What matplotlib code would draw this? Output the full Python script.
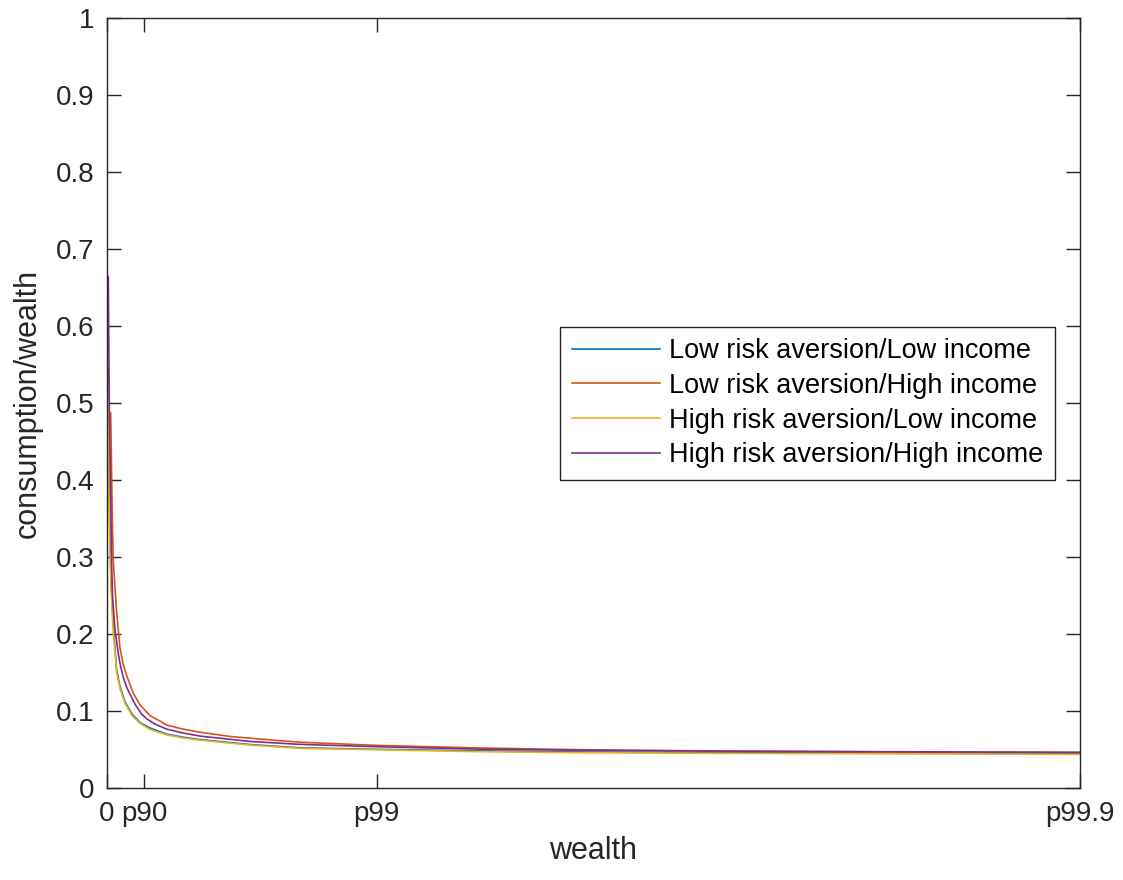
import matplotlib
matplotlib.use("Agg")
import matplotlib.pyplot as plt

plt.rcParams["font.family"] = ["Liberation Sans", "DejaVu Sans"]

# wealth grid (axis runs 0 .. p99.9 = 100)
tick_pos = [0, 3.83, 27.75, 100]
tick_labels = ["0", "p90", "p99", "p99.9"]

x_low_low = [0.134, 0.185, 0.236, 0.339, 0.442, 0.678, 1.027, 1.366, 1.880, 2.600,
             3.421, 4.449, 6.165, 7.84, 9.586, 14.72, 19.86, 27.77, 38.36, 48.63,
             64.04, 79.45, 100]
y_low_low = [0.545, 0.47, 0.40, 0.32, 0.27, 0.209, 0.153, 0.132, 0.112, 0.096,
             0.085, 0.078, 0.070, 0.066, 0.0630, 0.0565, 0.0522, 0.0503, 0.0482,
             0.0468, 0.0460, 0.0455, 0.0450]

x_low_high = [0.411, 0.493, 0.575, 0.678, 0.853, 1.027, 1.366, 1.675, 2.055, 2.702,
              3.421, 4.449, 5.476, 6.165, 7.84, 9.586, 12.67, 15.75, 19.86, 27.77,
              38.36, 48.63, 64.04, 79.45, 100]
y_low_high = [0.487, 0.42, 0.35, 0.296, 0.26, 0.228, 0.182, 0.162, 0.146, 0.124,
              0.108, 0.094, 0.087, 0.0818, 0.0765, 0.0725, 0.067, 0.0636, 0.0595,
              0.0554, 0.052, 0.0498, 0.0480, 0.0470, 0.0463]

x_high_low = x_low_low
y_high_low = [0.528, 0.45, 0.385, 0.31, 0.262, 0.203, 0.149, 0.129, 0.110, 0.094,
              0.084, 0.076, 0.069, 0.065, 0.0622, 0.0558, 0.0515, 0.0497, 0.0472,
              0.0459, 0.0450, 0.0445, 0.0437]

x_high_high = [0.164, 0.267, 0.390, 0.514, 0.596, 0.853, 1.192, 1.366, 1.675, 2.055,
               2.394, 2.908, 3.596, 4.110, 4.963, 6.165, 7.84, 9.586, 14.72, 19.86,
               27.77, 38.36, 48.63, 64.04, 79.45, 100]
y_high_high = [0.664, 0.50, 0.40, 0.29, 0.25, 0.205, 0.175, 0.162, 0.145, 0.131,
               0.122, 0.109, 0.096, 0.090, 0.083, 0.0765, 0.0715, 0.0675, 0.0605,
               0.0567, 0.0537, 0.0505, 0.049, 0.0478, 0.0472, 0.0463]

labels = ["Low risk aversion/Low income", "Low risk aversion/High income",
          "High risk aversion/Low income", "High risk aversion/High income"]
colors = ["#0072BD", "#D95319", "#EDB120", "#7E2F8E"]

fig = plt.figure(figsize=(11.23, 8.8), dpi=100)
ax = fig.add_axes([0.095, 0.1045, 0.8667, 0.875])

series = [(x_low_low, y_low_low), (x_low_high, y_low_high),
          (x_high_low, y_high_low), (x_high_high, y_high_high)]
for (x, y), lab, c in zip(series, labels, colors):
    ax.plot(x, y, color=c, lw=1.2, label=lab)

ax.set_xlim(0, 100)
ax.set_ylim(0, 1)
ax.set_xticks(tick_pos)
ax.set_xticklabels(tick_labels)
ax.set_yticks([i / 10 for i in range(11)])
ax.set_yticklabels(["0"] + [f"{i / 10:.1f}" for i in range(1, 10)] + ["1"])

dark = "#262626"
for s in ax.spines.values():
    s.set_color(dark)
    s.set_linewidth(1.0)
ax.tick_params(direction="in", length=10, width=1.0, colors=dark,
               labelsize=20, top=True, right=True, pad=9)
ax.set_xlabel("wealth", fontsize=22, color=dark, labelpad=7)
ax.set_ylabel("consumption/wealth", fontsize=22, color=dark, labelpad=9)

leg = ax.legend(loc="upper right", bbox_to_anchor=(0.974, 0.599), borderaxespad=0,
                fontsize=19.5, handlelength=3.25, handletextpad=0.35,
                labelspacing=0.32, borderpad=0.42, fancybox=False, framealpha=1)
leg.get_frame().set_edgecolor(dark)
leg.get_frame().set_linewidth(1.0)

fig.savefig("out.png", dpi=100)
